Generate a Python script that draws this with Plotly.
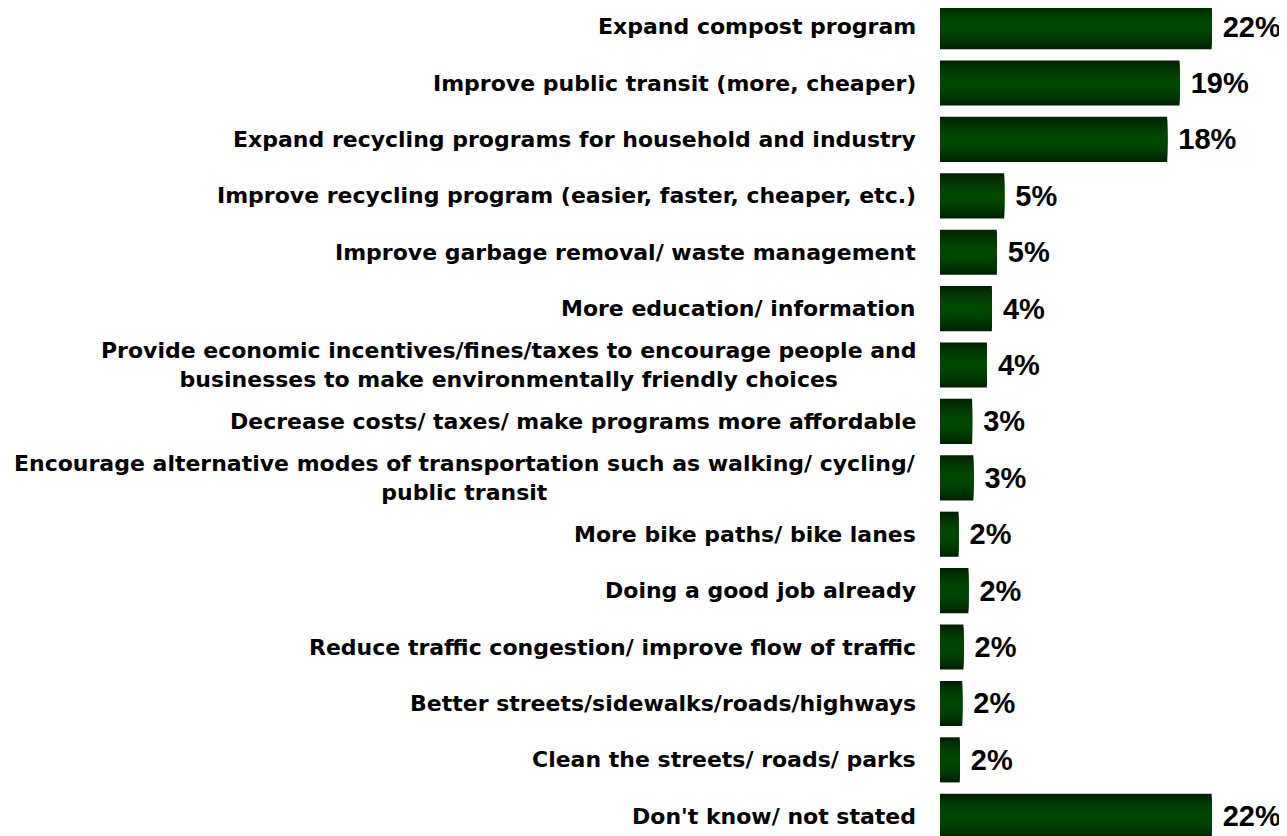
import plotly.graph_objects as go

categories = [
    "Expand compost program",
    "Improve public transit (more, cheaper)",
    "Expand recycling programs for household and industry",
    "Improve recycling program (easier, faster, cheaper, etc.)",
    "Improve garbage removal/ waste management",
    "More education/ information",
    "Provide economic incentives/fines/taxes to encourage people and<br>businesses to make environmentally friendly choices",
    "Decrease costs/ taxes/ make programs more affordable",
    "Encourage alternative modes of transportation such as walking/ cycling/<br>public transit",
    "More bike paths/ bike lanes",
    "Doing a good job already",
    "Reduce traffic congestion/ improve flow of traffic",
    "Better streets/sidewalks/roads/highways",
    "Clean the streets/ roads/ parks",
    "Don't know/ not stated",
]
values = [22, 19, 18, 5, 5, 4, 4, 3, 3, 2, 2, 2, 2, 2, 22]
bar_lengths = [22, 19.4, 18.4, 5.2, 4.6, 4.2, 3.8, 2.6, 2.7, 1.5, 2.3, 1.9, 1.8, 1.6, 22]

ypos = list(range(len(categories)))
LABEL_FONT = "DejaVu Sans, sans-serif"
VALUE_FONT = "Liberation Sans, Arial, sans-serif"

# gradient layers (outer dark -> inner light)
layers = [
    (0.80, "#002200"),
    (0.70, "#002b00"),
    (0.60, "#003300"),
    (0.48, "#003a00"),
    (0.36, "#004000"),
    (0.22, "#004500"),
]

fig = go.Figure()
for i, (w, c) in enumerate(layers):
    fig.add_trace(go.Bar(
        x=bar_lengths,
        y=ypos,
        orientation="h",
        width=w,
        marker=dict(color=c, line=dict(width=0)),
        text=[f" {v}%" for v in values] if i == 0 else None,
        textposition="outside" if i == 0 else "none",
        textfont=dict(family=VALUE_FONT, size=29, color="black", weight="bold"),
        cliponaxis=False,
        hoverinfo="skip",
        showlegend=False,
    ))

annotations = []
for y, cat in zip(ypos, categories):
    annotations.append(dict(
        x=0, xref="paper", xanchor="right", xshift=-22,
        y=y, yref="y", yanchor="middle",
        text=cat, showarrow=False, align="center",
        font=dict(family=LABEL_FONT, size=22, color="black", weight="bold"),
    ))

fig.update_layout(
    width=1279, height=828,
    margin=dict(l=932, r=0, t=0, b=0, autoexpand=False),
    paper_bgcolor="white", plot_bgcolor="white",
    barmode="overlay",
    xaxis=dict(range=[0, 28.1], visible=False, fixedrange=True),
    yaxis=dict(range=[14.35, -0.33], visible=False, fixedrange=True),
    annotations=annotations,
    uniformtext=dict(mode=False),
)

fig.write_html("out.html")
